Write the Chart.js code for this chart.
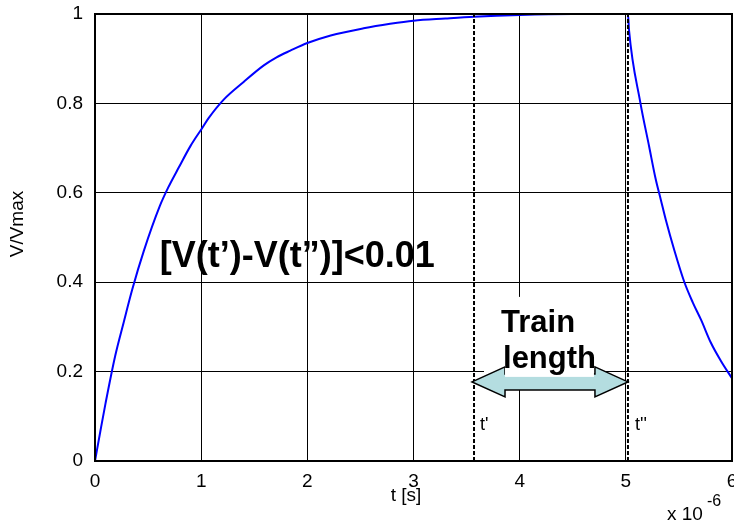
<!DOCTYPE html>
<html>
<head>
<meta charset="utf-8">
<script src="https://cdn.jsdelivr.net/npm/chart.js@4.4.1/dist/chart.umd.min.js"></script>
<style>
  body { margin: 0; background: #fff; }
  #wrap { width: 734px; height: 523px; }
</style>
</head>
<body>
<div id="wrap"><canvas id="pulse_chart"></canvas></div>
<script>
// normalised voltage during charge (t in microseconds)
var charge_t = [0, 0.05, 0.1, 0.19, 0.27, 0.35, 0.46, 0.61, 0.69, 0.79, 0.9, 1.01, 1.07, 1.21, 1.4, 1.59, 1.71, 1.84, 2.0, 2.22, 2.53, 2.78, 3.0, 3.3, 3.57, 4.0, 4.5, 5.0, 5.02];
var charge_v = [0, 0.066, 0.13, 0.235, 0.31, 0.383, 0.47, 0.57, 0.612, 0.657, 0.705, 0.745, 0.767, 0.808, 0.848, 0.885, 0.903, 0.918, 0.935, 0.952, 0.968, 0.978, 0.985, 0.99, 0.994, 0.998, 1.0, 1.0, 1.0];
// discharge after the train ends
var discharge_t = [5.03, 5.135, 5.22, 5.28, 5.33, 5.377, 5.456, 5.55, 5.63, 5.71, 5.80, 5.90, 6.0];
var discharge_v = [0.964, 0.804, 0.703, 0.632, 0.584, 0.539, 0.472, 0.401, 0.355, 0.315, 0.265, 0.222, 0.185];
// marker times t' and t''
var t_start = 3.57;
var t_end = 5.02;
var arrow_v = 0.177;
var xTickLabels = ["0", "1", "2", "3", "4", "5", "6"];
var yTickLabels = ["0", "0.2", "0.4", "0.6", "0.8", "1"];

var curve = [];
for (var i = 0; i < charge_t.length; i++) curve.push({ x: charge_t[i], y: charge_v[i] });
for (var j = 0; j < discharge_t.length; j++) curve.push({ x: discharge_t[j], y: discharge_v[j] });

var FONT = "'Liberation Sans', Arial, sans-serif";

function vline(t) {
    return {
        data: [{ x: t, y: 0 }, { x: t, y: 1 }],
        borderColor: "#000", borderWidth: 2, borderDash: [4, 2],
        pointRadius: 0, fill: false
    };
}

var decor = {
    id: "decor",
    beforeDatasetsDraw: function (chart) {
        var c = chart.ctx, x = chart.scales.x, y = chart.scales.y;
        var tipL = x.getPixelForValue(t_start) - 2, tipR = x.getPixelForValue(t_end);
        var ay = y.getPixelForValue(arrow_v);
        // white text box behind "Train length"
        c.save();
        c.fillStyle = "#fff";
        c.fillRect(tipL + 12, ay - 85, (tipR - tipL) - 36, 76);
        c.restore();
    },
    afterDatasetsDraw: function (chart) {
        var c = chart.ctx, x = chart.scales.x, y = chart.scales.y;
        var tipL = x.getPixelForValue(t_start) - 2, tipR = x.getPixelForValue(t_end);
        var ay = y.getPixelForValue(arrow_v);
        var head = 33, hh = 15, sh = 8;

        // double headed block arrow
        c.save();
        c.beginPath();
        c.moveTo(tipL, ay);
        c.lineTo(tipL + head, ay - hh);
        c.lineTo(tipL + head, ay - sh);
        c.lineTo(tipR - head, ay - sh);
        c.lineTo(tipR - head, ay - hh);
        c.lineTo(tipR, ay);
        c.lineTo(tipR - head, ay + hh);
        c.lineTo(tipR - head, ay + sh);
        c.lineTo(tipL + head, ay + sh);
        c.lineTo(tipL + head, ay + hh);
        c.closePath();
        c.fillStyle = "#b4dde0";
        c.fill();
        c.lineWidth = 1.5;
        c.strokeStyle = "#000";
        c.stroke();

        c.fillStyle = "#fff";
        c.fillRect(tipL + head, ay - 42, (tipR - tipL) - 2 * head - 1, 37);

        c.fillStyle = "#000";
        c.textBaseline = "alphabetic";
        c.textAlign = "left";
        c.font = "bold 31px " + FONT;
        c.fillText("Train", tipL + 29, ay - 50);
        c.fillText("length", tipL + 31, ay - 14);

        c.font = "bold 36px " + FONT;
        c.fillText("[V(t\u2019)-V(t\u201d)]<0.01", x.getPixelForValue(0.61), y.getPixelForValue(0.434));

        c.font = "18px " + FONT;
        c.fillText("t'", x.getPixelForValue(t_start) + 6, y.getPixelForValue(0.07));
        c.fillText("t''", x.getPixelForValue(t_end) + 7, y.getPixelForValue(0.07));
        c.restore();
    },
    afterDraw: function (chart) {
        var c = chart.ctx, a = chart.chartArea;
        c.save();
        c.strokeStyle = "#000";
        c.lineWidth = 2;
        c.strokeRect(a.left, a.top, a.right - a.left, a.bottom - a.top);

        c.fillStyle = "#000";
        c.font = "19px " + FONT;
        c.textAlign = "center";
        c.textBaseline = "middle";
        c.fillText("t [s]", 406, 496);

        c.save();
        c.translate(18, 224);
        c.rotate(-Math.PI / 2);
        c.fillText("V/Vmax", 0, 0);
        c.restore();

        c.textAlign = "left";
        c.fillText("x 10", 667, 515);
        c.font = "16px " + FONT;
        c.fillText("-6", 707, 502);
        c.restore();
    }
};

new Chart(document.getElementById("pulse_chart"), {
    type: "line",
    data: {
        datasets: [
            vline(t_start),
            vline(t_end),
            { data: curve, borderColor: "#0000ff", borderWidth: 2, pointRadius: 0, fill: false, cubicInterpolationMode: "monotone" }
        ]
    },
    options: {
        responsive: true, maintainAspectRatio: false, animation: false,
        layout: { padding: { top: 14, right: 2, left: 0, bottom: 0 } },
        plugins: { legend: { display: false }, tooltip: { enabled: false } },
        scales: {
            x: {
                type: "linear", min: 0, max: 6,
                grid: { color: "#000", lineWidth: 1, drawTicks: false },
                border: { color: "#000", width: 2 },
                ticks: {
                    stepSize: 1, padding: 9, color: "#000",
                    font: { family: FONT, size: 19 },
                    callback: function (v, i) { return xTickLabels[i]; }
                },
                afterFit: function (s) { s.height = 62; s.paddingLeft = 0; s.paddingRight = 0; }
            },
            y: {
                type: "linear", min: 0, max: 1,
                grid: { color: "#000", lineWidth: 1, drawTicks: false },
                border: { color: "#000", width: 2 },
                ticks: {
                    stepSize: 0.2, padding: 12, color: "#000",
                    font: { family: FONT, size: 19 },
                    callback: function (v, i) { return yTickLabels[i]; }
                },
                afterFit: function (s) { s.width = 95; s.paddingTop = 0; s.paddingBottom = 0; }
            }
        }
    },
    plugins: [decor]
});
</script>
</body>
</html>
